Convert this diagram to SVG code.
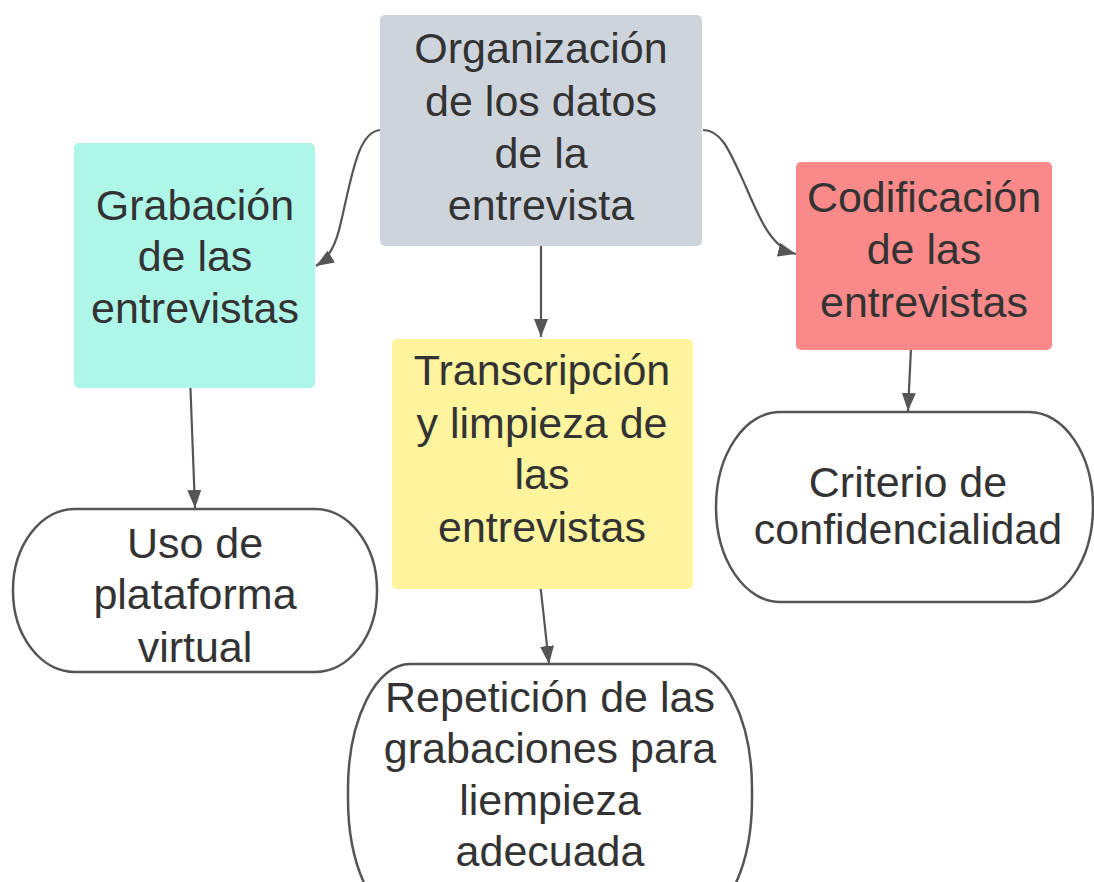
<svg xmlns="http://www.w3.org/2000/svg" width="1094" height="882" viewBox="0 0 1094 882">
<defs>
<style>
text{font-family:"Liberation Sans",Arial,sans-serif;font-size:43px;fill:#333;text-anchor:middle}
.box{stroke:none}
.oval{fill:#fff;stroke:#555;stroke-width:2.5}
.conn{fill:none;stroke:#555;stroke-width:2.2}
</style>
<marker id="ah" viewBox="0 0 18 14" refX="18" refY="7" markerWidth="18" markerHeight="14" markerUnits="userSpaceOnUse" orient="auto">
<path d="M0,0 L18,7 L0,14 Z" fill="#555"/>
</marker>
</defs>
<rect width="1094" height="882" fill="#fff"/>
<g id="connectors">
<path class="conn" marker-end="url(#ah)" d="M380,130 C358,132 352,175 341,222 C336,245 329,258 316,266"/>
<path class="conn" marker-end="url(#ah)" d="M541,246 L541,337"/>
<path class="conn" marker-end="url(#ah)" d="M703,130 C722,130 730,152 746,187 C760,220 772,248 796,254"/>
<path class="conn" marker-end="url(#ah)" d="M190,376 L195,508"/>
<path class="conn" marker-end="url(#ah)" d="M539,573 L549,664"/>
<path class="conn" marker-end="url(#ah)" d="M911,348 L908,411"/>
</g>
<g id="organizacion">
<rect class="box" x="380" y="15" width="322" height="231" rx="5" fill="#ced4dc"/>
<text x="541" y="63">Organización</text>
<text x="541" y="116">de los datos</text>
<text x="541" y="168">de la</text>
<text x="541" y="220">entrevista</text>
</g>
<g id="grabacion">
<rect class="box" x="74" y="143" width="241" height="245" rx="5" fill="#aef6e8"/>
<text x="195" y="220">Grabación</text>
<text x="195" y="271">de las</text>
<text x="195" y="323">entrevistas</text>
</g>
<g id="codificacion">
<rect class="box" x="796" y="162" width="256" height="188" rx="5" fill="#f98a89"/>
<text x="924" y="212">Codificación</text>
<text x="924" y="264">de las</text>
<text x="924" y="317">entrevistas</text>
</g>
<g id="transcripcion">
<rect class="box" x="392" y="339" width="301" height="250" rx="5" fill="#fdf49d"/>
<text x="542" y="385">Transcripción</text>
<text x="542" y="438">y limpieza de</text>
<text x="542" y="489">las</text>
<text x="542" y="542">entrevistas</text>
</g>
<g id="uso">
<rect class="oval" x="13" y="509" width="364" height="163" rx="62" ry="81"/>
<text x="195" y="558">Uso de</text>
<text x="195" y="609">plataforma</text>
<text x="195" y="662">virtual</text>
</g>
<g id="criterio">
<rect class="oval" x="716" y="412" width="377" height="190" rx="64" ry="95"/>
<text x="908" y="497">Criterio de</text>
<text x="908" y="544">confidencialidad</text>
</g>
<g id="repeticion">
<rect class="oval" x="348" y="664" width="404" height="260" rx="62" ry="125"/>
<text x="550" y="712">Repetición de las</text>
<text x="550" y="763">grabaciones para</text>
<text x="550" y="815">liempieza</text>
<text x="550" y="866">adecuada</text>
</g>
</svg>
